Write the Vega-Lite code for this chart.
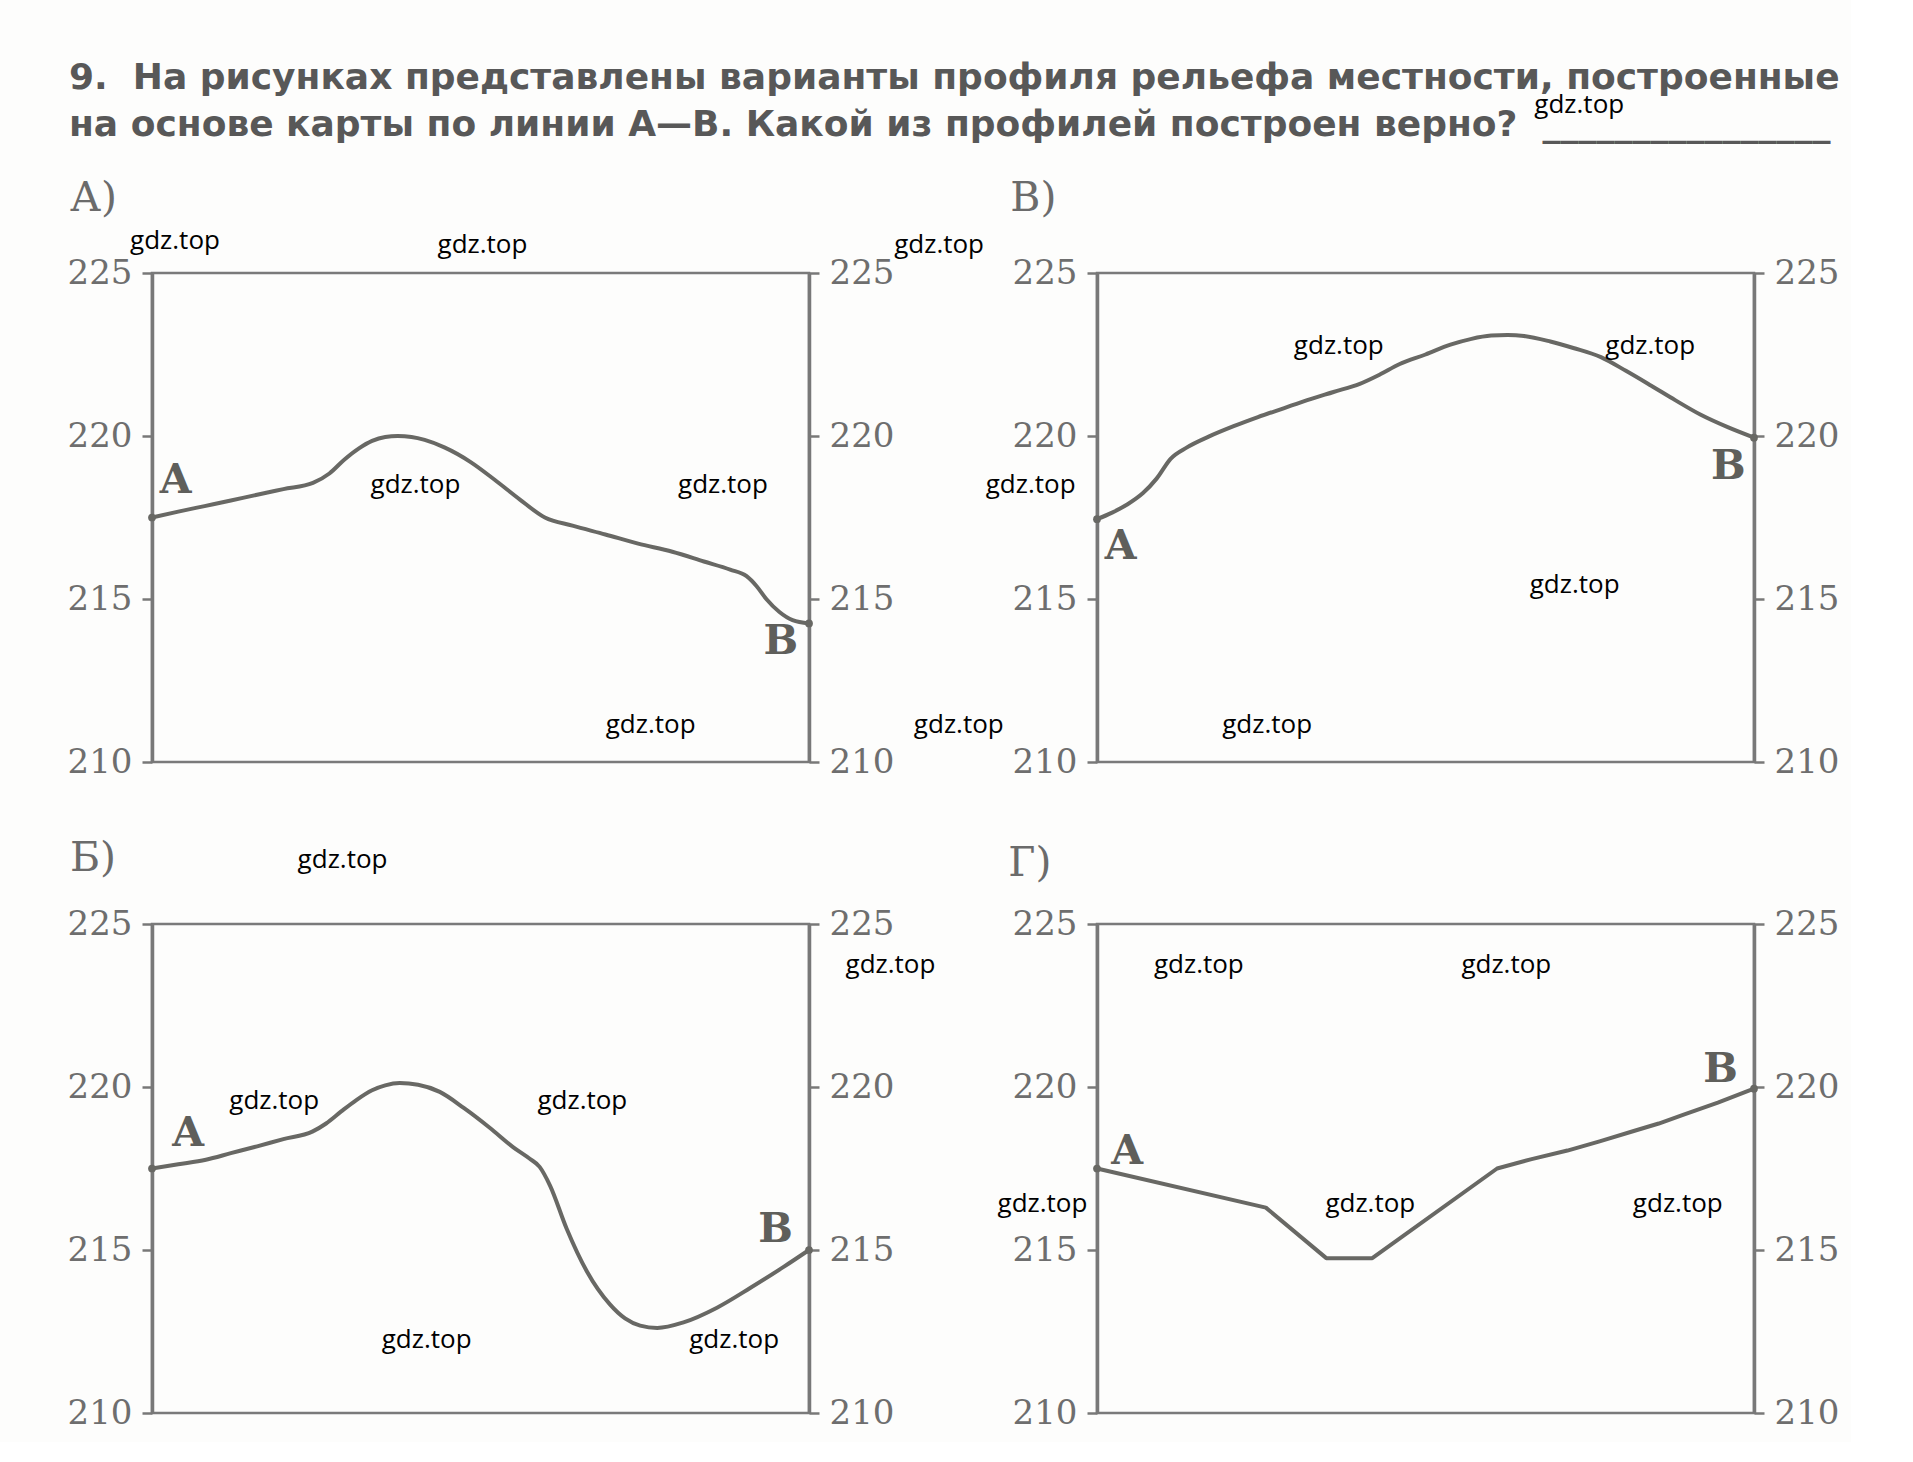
{
  "$schema": "https://vega.github.io/schema/vega-lite/v6.json",
  "background": "#fdfdfc",
  "autosize": {"type": "pad"},
  "padding": {"left": 65, "top": 60, "right": 10, "bottom": 10},
  "title": {
    "text": ["9.\u00a0\u00a0На рисунках представлены варианты профиля рельефа местности, построенные", "на основе карты по линии А—В. Какой из профилей построен верно?\u00a0\u00a0________________"],
    "anchor": "start",
    "frame": "group",
    "dx": -83,
    "font": "DejaVu Sans",
    "fontSize": 36,
    "fontWeight": "bold",
    "color": "#585858",
    "lineHeight": 47,
    "offset": -53
  },
  "datasets": {
    "profA": [
      {"x": 0, "y": 217.5}, {"x": 4, "y": 217.68}, {"x": 8, "y": 217.85}, {"x": 12, "y": 218.02}, {"x": 16, "y": 218.2}, {"x": 20, "y": 218.37}, {"x": 24.5, "y": 218.56}, {"x": 27, "y": 218.85}, {"x": 29.3, "y": 219.28}, {"x": 31.5, "y": 219.62}, {"x": 33.5, "y": 219.85}, {"x": 35.5, "y": 219.97}, {"x": 37.4, "y": 220.0}, {"x": 39.5, "y": 219.97}, {"x": 41.5, "y": 219.88}, {"x": 44.5, "y": 219.65}, {"x": 48.5, "y": 219.2}, {"x": 52.2, "y": 218.65}, {"x": 56, "y": 218.05}, {"x": 59.8, "y": 217.5}, {"x": 64, "y": 217.25}, {"x": 69, "y": 216.98}, {"x": 74, "y": 216.7}, {"x": 79.2, "y": 216.45}, {"x": 84, "y": 216.15}, {"x": 88, "y": 215.9}, {"x": 90.5, "y": 215.7}, {"x": 92, "y": 215.4}, {"x": 93.5, "y": 215.0}, {"x": 95.5, "y": 214.6}, {"x": 97.5, "y": 214.35}, {"x": 100, "y": 214.25}
    ],
    "profV": [
      {"x": 0, "y": 217.45}, {"x": 2.3, "y": 217.65}, {"x": 4.6, "y": 217.9}, {"x": 7, "y": 218.25}, {"x": 9.1, "y": 218.7}, {"x": 11.2, "y": 219.3}, {"x": 13.7, "y": 219.65}, {"x": 17, "y": 219.98}, {"x": 20.8, "y": 220.3}, {"x": 24.5, "y": 220.58}, {"x": 28.4, "y": 220.85}, {"x": 32, "y": 221.1}, {"x": 36, "y": 221.35}, {"x": 40, "y": 221.6}, {"x": 43, "y": 221.88}, {"x": 46, "y": 222.2}, {"x": 50, "y": 222.5}, {"x": 53.8, "y": 222.8}, {"x": 57, "y": 222.98}, {"x": 60, "y": 223.08}, {"x": 62.5, "y": 223.1}, {"x": 65, "y": 223.07}, {"x": 69, "y": 222.9}, {"x": 72.5, "y": 222.7}, {"x": 76.7, "y": 222.42}, {"x": 80.5, "y": 222.0}, {"x": 84.3, "y": 221.55}, {"x": 88, "y": 221.1}, {"x": 91.9, "y": 220.65}, {"x": 96, "y": 220.27}, {"x": 100, "y": 219.95}
    ],
    "profB": [
      {"x": 0, "y": 217.5}, {"x": 4, "y": 217.63}, {"x": 8.2, "y": 217.77}, {"x": 12, "y": 217.97}, {"x": 16, "y": 218.18}, {"x": 20, "y": 218.4}, {"x": 24.4, "y": 218.63}, {"x": 26.5, "y": 218.88}, {"x": 28.8, "y": 219.25}, {"x": 31.1, "y": 219.6}, {"x": 33.5, "y": 219.9}, {"x": 35.5, "y": 220.05}, {"x": 37.7, "y": 220.12}, {"x": 40.5, "y": 220.07}, {"x": 43.8, "y": 219.85}, {"x": 47.5, "y": 219.35}, {"x": 51.4, "y": 218.75}, {"x": 55, "y": 218.15}, {"x": 57.5, "y": 217.8}, {"x": 59, "y": 217.55}, {"x": 60.6, "y": 216.97}, {"x": 63.1, "y": 215.66}, {"x": 66.2, "y": 214.34}, {"x": 69.7, "y": 213.33}, {"x": 72, "y": 212.9}, {"x": 74.3, "y": 212.68}, {"x": 76.9, "y": 212.61}, {"x": 80.9, "y": 212.78}, {"x": 86, "y": 213.23}, {"x": 91.1, "y": 213.84}, {"x": 96.2, "y": 214.49}, {"x": 100, "y": 215.0}
    ],
    "profG": [
      {"x": 0, "y": 217.5}, {"x": 25.7, "y": 216.3}, {"x": 34.9, "y": 214.75}, {"x": 41.9, "y": 214.75}, {"x": 60.9, "y": 217.5}, {"x": 66, "y": 217.78}, {"x": 71.6, "y": 218.05}, {"x": 76.5, "y": 218.33}, {"x": 81.7, "y": 218.65}, {"x": 85.5, "y": 218.88}, {"x": 89.3, "y": 219.15}, {"x": 94.5, "y": 219.52}, {"x": 100, "y": 219.95}
    ],
    "letters": [
      {"panel": "A", "letter": "А", "x": 3.6, "y": 218.25},
      {"panel": "A", "letter": "В", "x": 95.7, "y": 213.3},
      {"panel": "V", "letter": "А", "x": 3.6, "y": 216.23},
      {"panel": "V", "letter": "В", "x": 96.1, "y": 218.67},
      {"panel": "B", "letter": "А", "x": 5.5, "y": 218.18},
      {"panel": "B", "letter": "В", "x": 94.9, "y": 215.25},
      {"panel": "G", "letter": "А", "x": 4.6, "y": 217.65},
      {"panel": "G", "letter": "В", "x": 94.9, "y": 220.15}
    ],
    "captions": [
      {"panel": "A", "caption": "А)", "x": -12.5, "y": 226.9},
      {"panel": "V", "caption": "В)", "x": -13.2, "y": 226.9},
      {"panel": "B", "caption": "Б)", "x": -12.5, "y": 226.64},
      {"panel": "G", "caption": "Г)", "x": -13.5, "y": 226.46}
    ],
    "marks": [
      {"panel": "V", "x": 73.4, "y": 230.14},
      {"panel": "A", "x": 3.5, "y": 225.99},
      {"panel": "A", "x": 50.3, "y": 225.87},
      {"panel": "A", "x": 119.8, "y": 225.87},
      {"panel": "A", "x": 40.1, "y": 218.5},
      {"panel": "A", "x": 86.9, "y": 218.5},
      {"panel": "A", "x": 75.9, "y": 211.13},
      {"panel": "A", "x": 122.8, "y": 211.13},
      {"panel": "V", "x": -10.1, "y": 218.5},
      {"panel": "V", "x": 36.8, "y": 222.77},
      {"panel": "V", "x": 84.2, "y": 222.77},
      {"panel": "V", "x": 72.7, "y": 215.43},
      {"panel": "V", "x": 25.9, "y": 211.13},
      {"panel": "B", "x": 29.0, "y": 226.95},
      {"panel": "B", "x": 112.4, "y": 223.73},
      {"panel": "B", "x": 18.6, "y": 219.57},
      {"panel": "B", "x": 65.5, "y": 219.57},
      {"panel": "B", "x": 41.8, "y": 212.24},
      {"panel": "B", "x": 88.6, "y": 212.24},
      {"panel": "G", "x": 15.5, "y": 223.73},
      {"panel": "G", "x": 62.3, "y": 223.73},
      {"panel": "G", "x": -8.3, "y": 216.4},
      {"panel": "G", "x": 41.6, "y": 216.4},
      {"panel": "G", "x": 88.4, "y": 216.4}
    ]
  },
  "columns": 2,
  "spacing": {"row": 162, "column": 288},
  "bounds": "flush",
  "concat": [
    {
      "width": 657, "height": 489,
      "layer": [
        {"data": {"name": "profA"}, "mark": {"type": "line", "interpolate": "monotone", "color": "#686864", "strokeWidth": 4},
         "encoding": {"x": {"field": "x", "type": "quantitative", "scale": {"domain": [0, 100]}, "axis": null},
                      "y": {"field": "y", "type": "quantitative", "scale": {"domain": [210, 225]}, "axis": {"orient": "left", "values": [210, 215, 220, 225]}}}},
        {"data": {"name": "profA"}, "transform": [{"filter": "datum.x == 0 || datum.x == 100"}], "mark": {"type": "point", "filled": true, "size": 60, "color": "#686864", "opacity": 1},
         "encoding": {"x": {"field": "x", "type": "quantitative", "scale": {"domain": [0, 100]}, "axis": null},
                      "y": {"field": "y", "type": "quantitative", "scale": {"domain": [210, 225]}, "axis": {"orient": "right", "values": [210, 215, 220, 225]}}}},
        {"data": {"name": "letters"}, "transform": [{"filter": "datum.panel == 'A'"}], "mark": {"type": "text", "font": "DejaVu Serif", "fontWeight": "bold", "fontSize": 41, "color": "#5f5f5b", "baseline": "alphabetic"},
         "encoding": {"x": {"field": "x", "type": "quantitative", "scale": {"domain": [0, 100]}, "axis": null}, "y": {"field": "y", "type": "quantitative", "scale": {"domain": [210, 225]}, "axis": null}, "text": {"field": "letter"}}},
        {"data": {"name": "captions"}, "transform": [{"filter": "datum.panel == 'A'"}], "mark": {"type": "text", "align": "left", "font": "DejaVu Serif", "fontSize": 41, "color": "#6b6b6b", "baseline": "alphabetic"},
         "encoding": {"x": {"field": "x", "type": "quantitative", "scale": {"domain": [0, 100]}, "axis": null}, "y": {"field": "y", "type": "quantitative", "scale": {"domain": [210, 225]}, "axis": null}, "text": {"field": "caption"}}},
        {"data": {"name": "marks"}, "transform": [{"filter": "datum.panel == 'A'"}], "mark": {"type": "text", "text": "gdz.top", "font": "Open Sans", "fontSize": 26, "color": "#000000", "baseline": "middle"},
         "encoding": {"x": {"field": "x", "type": "quantitative", "scale": {"domain": [0, 100]}, "axis": null}, "y": {"field": "y", "type": "quantitative", "scale": {"domain": [210, 225]}, "axis": null}}}
      ],
      "resolve": {"axis": {"y": "independent"}}
    },
    {
      "width": 657, "height": 489,
      "layer": [
        {"data": {"name": "profV"}, "mark": {"type": "line", "interpolate": "monotone", "color": "#686864", "strokeWidth": 4},
         "encoding": {"x": {"field": "x", "type": "quantitative", "scale": {"domain": [0, 100]}, "axis": null},
                      "y": {"field": "y", "type": "quantitative", "scale": {"domain": [210, 225]}, "axis": {"orient": "left", "values": [210, 215, 220, 225]}}}},
        {"data": {"name": "profV"}, "transform": [{"filter": "datum.x == 0 || datum.x == 100"}], "mark": {"type": "point", "filled": true, "size": 60, "color": "#686864", "opacity": 1},
         "encoding": {"x": {"field": "x", "type": "quantitative", "scale": {"domain": [0, 100]}, "axis": null},
                      "y": {"field": "y", "type": "quantitative", "scale": {"domain": [210, 225]}, "axis": {"orient": "right", "values": [210, 215, 220, 225]}}}},
        {"data": {"name": "letters"}, "transform": [{"filter": "datum.panel == 'V'"}], "mark": {"type": "text", "font": "DejaVu Serif", "fontWeight": "bold", "fontSize": 41, "color": "#5f5f5b", "baseline": "alphabetic"},
         "encoding": {"x": {"field": "x", "type": "quantitative", "scale": {"domain": [0, 100]}, "axis": null}, "y": {"field": "y", "type": "quantitative", "scale": {"domain": [210, 225]}, "axis": null}, "text": {"field": "letter"}}},
        {"data": {"name": "captions"}, "transform": [{"filter": "datum.panel == 'V'"}], "mark": {"type": "text", "align": "left", "font": "DejaVu Serif", "fontSize": 41, "color": "#6b6b6b", "baseline": "alphabetic"},
         "encoding": {"x": {"field": "x", "type": "quantitative", "scale": {"domain": [0, 100]}, "axis": null}, "y": {"field": "y", "type": "quantitative", "scale": {"domain": [210, 225]}, "axis": null}, "text": {"field": "caption"}}},
        {"data": {"name": "marks"}, "transform": [{"filter": "datum.panel == 'V'"}], "mark": {"type": "text", "text": "gdz.top", "font": "Open Sans", "fontSize": 26, "color": "#000000", "baseline": "middle"},
         "encoding": {"x": {"field": "x", "type": "quantitative", "scale": {"domain": [0, 100]}, "axis": null}, "y": {"field": "y", "type": "quantitative", "scale": {"domain": [210, 225]}, "axis": null}}}
      ],
      "resolve": {"axis": {"y": "independent"}}
    },
    {
      "width": 657, "height": 489,
      "layer": [
        {"data": {"name": "profB"}, "mark": {"type": "line", "interpolate": "monotone", "color": "#686864", "strokeWidth": 4},
         "encoding": {"x": {"field": "x", "type": "quantitative", "scale": {"domain": [0, 100]}, "axis": null},
                      "y": {"field": "y", "type": "quantitative", "scale": {"domain": [210, 225]}, "axis": {"orient": "left", "values": [210, 215, 220, 225]}}}},
        {"data": {"name": "profB"}, "transform": [{"filter": "datum.x == 0 || datum.x == 100"}], "mark": {"type": "point", "filled": true, "size": 60, "color": "#686864", "opacity": 1},
         "encoding": {"x": {"field": "x", "type": "quantitative", "scale": {"domain": [0, 100]}, "axis": null},
                      "y": {"field": "y", "type": "quantitative", "scale": {"domain": [210, 225]}, "axis": {"orient": "right", "values": [210, 215, 220, 225]}}}},
        {"data": {"name": "letters"}, "transform": [{"filter": "datum.panel == 'B'"}], "mark": {"type": "text", "font": "DejaVu Serif", "fontWeight": "bold", "fontSize": 41, "color": "#5f5f5b", "baseline": "alphabetic"},
         "encoding": {"x": {"field": "x", "type": "quantitative", "scale": {"domain": [0, 100]}, "axis": null}, "y": {"field": "y", "type": "quantitative", "scale": {"domain": [210, 225]}, "axis": null}, "text": {"field": "letter"}}},
        {"data": {"name": "captions"}, "transform": [{"filter": "datum.panel == 'B'"}], "mark": {"type": "text", "align": "left", "font": "DejaVu Serif", "fontSize": 41, "color": "#6b6b6b", "baseline": "alphabetic"},
         "encoding": {"x": {"field": "x", "type": "quantitative", "scale": {"domain": [0, 100]}, "axis": null}, "y": {"field": "y", "type": "quantitative", "scale": {"domain": [210, 225]}, "axis": null}, "text": {"field": "caption"}}},
        {"data": {"name": "marks"}, "transform": [{"filter": "datum.panel == 'B'"}], "mark": {"type": "text", "text": "gdz.top", "font": "Open Sans", "fontSize": 26, "color": "#000000", "baseline": "middle"},
         "encoding": {"x": {"field": "x", "type": "quantitative", "scale": {"domain": [0, 100]}, "axis": null}, "y": {"field": "y", "type": "quantitative", "scale": {"domain": [210, 225]}, "axis": null}}}
      ],
      "resolve": {"axis": {"y": "independent"}}
    },
    {
      "width": 657, "height": 489,
      "layer": [
        {"data": {"name": "profG"}, "mark": {"type": "line", "interpolate": "linear", "color": "#686864", "strokeWidth": 4, "strokeJoin": "round"},
         "encoding": {"x": {"field": "x", "type": "quantitative", "scale": {"domain": [0, 100]}, "axis": null},
                      "y": {"field": "y", "type": "quantitative", "scale": {"domain": [210, 225]}, "axis": {"orient": "left", "values": [210, 215, 220, 225]}}}},
        {"data": {"name": "profG"}, "transform": [{"filter": "datum.x == 0 || datum.x == 100"}], "mark": {"type": "point", "filled": true, "size": 60, "color": "#686864", "opacity": 1},
         "encoding": {"x": {"field": "x", "type": "quantitative", "scale": {"domain": [0, 100]}, "axis": null},
                      "y": {"field": "y", "type": "quantitative", "scale": {"domain": [210, 225]}, "axis": {"orient": "right", "values": [210, 215, 220, 225]}}}},
        {"data": {"name": "letters"}, "transform": [{"filter": "datum.panel == 'G'"}], "mark": {"type": "text", "font": "DejaVu Serif", "fontWeight": "bold", "fontSize": 41, "color": "#5f5f5b", "baseline": "alphabetic"},
         "encoding": {"x": {"field": "x", "type": "quantitative", "scale": {"domain": [0, 100]}, "axis": null}, "y": {"field": "y", "type": "quantitative", "scale": {"domain": [210, 225]}, "axis": null}, "text": {"field": "letter"}}},
        {"data": {"name": "captions"}, "transform": [{"filter": "datum.panel == 'G'"}], "mark": {"type": "text", "align": "left", "font": "DejaVu Serif", "fontSize": 41, "color": "#6b6b6b", "baseline": "alphabetic"},
         "encoding": {"x": {"field": "x", "type": "quantitative", "scale": {"domain": [0, 100]}, "axis": null}, "y": {"field": "y", "type": "quantitative", "scale": {"domain": [210, 225]}, "axis": null}, "text": {"field": "caption"}}},
        {"data": {"name": "marks"}, "transform": [{"filter": "datum.panel == 'G'"}], "mark": {"type": "text", "text": "gdz.top", "font": "Open Sans", "fontSize": 26, "color": "#000000", "baseline": "middle"},
         "encoding": {"x": {"field": "x", "type": "quantitative", "scale": {"domain": [0, 100]}, "axis": null}, "y": {"field": "y", "type": "quantitative", "scale": {"domain": [210, 225]}, "axis": null}}}
      ],
      "resolve": {"axis": {"y": "independent"}}
    }
  ],
  "config": {
    "view": {"stroke": "#7a7a7a", "strokeWidth": 2.5},
    "axisY": {"grid": false, "domainColor": "#787878", "domainWidth": 3.5, "tickColor": "#787878", "tickWidth": 2.5, "tickSize": 10, "labelFont": "DejaVu Serif", "labelFontSize": 34, "labelColor": "#6e6e6e", "labelPadding": 10, "title": null}
  }
}
